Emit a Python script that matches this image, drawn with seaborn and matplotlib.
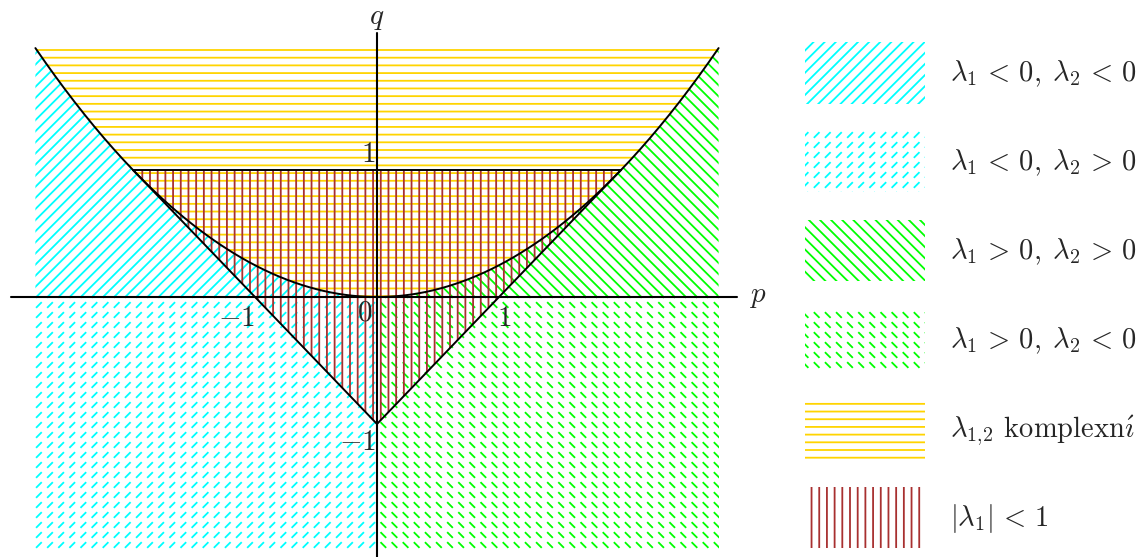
import numpy as np
import matplotlib
matplotlib.use("Agg")
import matplotlib.pyplot as plt
import matplotlib.hatch as mhatch
import matplotlib.patches as mpatches
from matplotlib.path import Path
import seaborn as sns

# shaded part of the (p, q) plane
p_min, p_max = -2.8, 2.8
q_min = -2.0
# drawn axis lines
p_axis = [-3.0, 2.95]
q_axis = [-2.1, 2.08]
# stability triangle |lambda_1| < 1
tri_p = [-2.0, 0.0, 2.0]
tri_q = [1.0, -1.0, 1.0]
# real / complex boundary q = p^2/4 (discriminant of l^2 - p l + q)
p_curve = np.linspace(p_min, p_max, 281)
q_curve = p_curve ** 2 / 4
q_max = q_curve.max()

labels = [r"$\lambda_1 \,<\, 0,\; \lambda_2 \,<\, 0$",
          r"$\lambda_1 \,<\, 0,\; \lambda_2 \,>\, 0$",
          r"$\lambda_1 \,>\, 0,\; \lambda_2 \,>\, 0$",
          r"$\lambda_1 \,>\, 0,\; \lambda_2 \,<\, 0$",
          r"$\lambda_{1,\!2}$ komplexn$\acute{\imath}$",
          r"$|\lambda_1| \,<\, 1$"]
colors = ["#00FFFF", "#00FFFF", "#00FF00", "#00FF00", "#FFD400", "#A83030"]
hatches = ["/", ".", "\\", "o", "-", "|"]

tick_text = ["1", "0", "$-1$", "1", "$-1$"]
tick_p = [-0.07, -0.1, -1.15, 1.05, -0.16]
tick_q = [1.12, -0.13, -0.17, -0.17, -1.15]


# hatch tiles: one cell = 1 inch, patterns picked by symbol
def tile_segments(hatch):
    segs = []
    if "-" in hatch:
        for y in (np.arange(13) + 0.5) / 13:
            segs.append([[0, y], [1, y]])
    if "|" in hatch:
        for x in (np.arange(13) + 0.5) / 13:
            segs.append([[x, 0], [x, 1]])
    if "/" in hatch:
        for c in np.arange(-9, 10) / 9:
            segs.append([[0, c], [1, 1 + c]])
    if "\\" in hatch:
        for c in np.arange(-9, 10) / 9:
            segs.append([[0, 1 + c], [1, c]])
    d = 0.022
    for sym, sgn in ((".", 1), ("o", -1)):
        if sym in hatch:
            for x in (np.arange(9) + 0.5) / 9:
                for y in (np.arange(10) + 0.5) / 10:
                    segs.append([[x - d, y - sgn * d], [x + d, y + sgn * d]])
    return np.array(segs, dtype=float).reshape(-1, 2)


class Tile(mhatch.HatchPatternBase):
    def __init__(self, hatch, density):
        self.verts = tile_segments(hatch)
        self.num_vertices = len(self.verts)

    def set_vertices_and_codes(self, vertices, codes):
        vertices[:] = self.verts
        codes[0::2] = Path.MOVETO
        codes[1::2] = Path.LINETO


mhatch._hatch_types[:] = [Tile]

sns.set_theme(style="white")
plt.rcParams["font.family"] = ["cmr10", "DejaVu Serif"]
plt.rcParams["mathtext.fontset"] = "cm"
plt.rcParams["hatch.linewidth"] = 1.3
plt.rcParams["axes.formatter.use_mathtext"] = True


def style(i):
    return dict(facecolor="none", edgecolor=colors[i], hatch=hatches[i], linewidth=0)


fig = plt.figure(figsize=(11.44, 5.57), dpi=100)
ax = fig.add_axes([0, 0, 760 / 1144, 1])

left = p_curve <= 1e-9
right = p_curve >= -1e-9
ax.fill_between(p_curve[left], 0, q_curve[left], **style(0))
ax.fill_between(p_curve[left], q_min, 0, **style(1))
ax.fill_between(p_curve[right], 0, q_curve[right], **style(2))
ax.fill_between(p_curve[right], q_min, 0, **style(3))
ax.fill_between(p_curve, q_curve, q_max, **style(4))
ax.fill_between(tri_p, tri_q, 1, **style(5))

# boundaries
sns.lineplot(x=p_curve, y=q_curve, color="black", lw=1.4, sort=False, estimator=None, ax=ax)
sns.lineplot(x=tri_p, y=tri_q, color="black", lw=1.4, sort=False, estimator=None, ax=ax)
ax.plot([tri_p[0], tri_p[-1]], [tri_q[0], tri_q[-1]], color="black", lw=1.4)

# axes
ax.plot(p_axis, [0, 0], color="black", lw=1.5)
ax.plot([0, 0], q_axis, color="black", lw=1.5)
ax.text(0, 2.19, "$q$", fontsize=21, ha="center", va="center")
ax.text(p_axis[1] + 0.1, 0, "$p$", fontsize=21, ha="left", va="center")
for t, x, y in zip(tick_text, tick_p, tick_q):
    ax.text(x, y, t, fontsize=21, ha="center", va="center")

ax.set_xlim(-377 / 122, 383 / 122)
ax.set_ylim(-260 / 127, 297 / 127)
ax.set_axis_off()

handles = [mpatches.Patch(**style(i)) for i in range(len(labels))]
fig.legend(handles, labels, loc="upper left", bbox_to_anchor=(805 / 1144, 1 - 42 / 557),
           frameon=False, fontsize=20.5, handlelength=4.2, handleheight=2.95,
           labelspacing=0.96, handletextpad=0.88, borderpad=0, borderaxespad=0)

fig.savefig("out.png", dpi=100)
